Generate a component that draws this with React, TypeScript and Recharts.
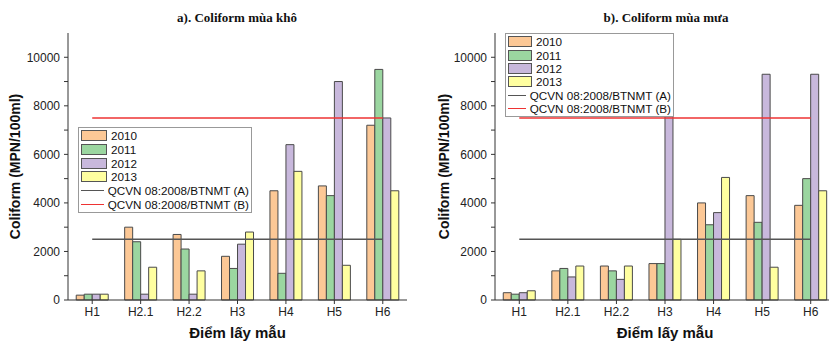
import React from "react";
import { ComposedChart, Bar, Line, XAxis, YAxis, Legend } from "recharts";

const categories = ["H1", "H2.1", "H2.2", "H3", "H4", "H5", "H6"];
const years = ["2010", "2011", "2012", "2013"];
const yearColors = ["#FCC896", "#9BD6A0", "#C8B8DC", "#FFFFA0"];

// mùa khô
const dry2010 = [200, 3000, 2700, 1800, 4500, 4700, 7200];
const dry2011 = [240, 2400, 2100, 1300, 1100, 4300, 9500];
const dry2012 = [240, 240, 240, 2300, 6400, 9000, 7500];
const dry2013 = [240, 1350, 1200, 2800, 5300, 1430, 4500];

// mùa mưa
const wet2010 = [300, 1200, 1400, 1500, 4000, 4300, 3900];
const wet2011 = [240, 1300, 1200, 1500, 3100, 3200, 5000];
const wet2012 = [300, 950, 850, 7600, 3600, 9300, 9300];
const wet2013 = [380, 1400, 1400, 2500, 5050, 1350, 4500];

const qcvnA = [2500, 2500, 2500, 2500, 2500, 2500, 2500];
const qcvnB = [7500, 7500, 7500, 7500, 7500, 7500, 7500];
const limitNames = ["QCVN 08:2008/BTNMT (A)", "QCVN 08:2008/BTNMT (B)"];
const limitColors = ["#555555", "#EE3333"];

const yTicks = [0, 1000, 2000, 3000, 4000, 5000, 6000, 7000, 8000, 9000, 10000];

function buildRows(series: number[][]) {
  return categories.map((c, i) => ({
    name: c,
    y2010: series[0][i],
    y2011: series[1][i],
    y2012: series[2][i],
    y2013: series[3][i],
    A: qcvnA[i],
    B: qcvnB[i],
  }));
}

const dryData = buildRows([dry2010, dry2011, dry2012, dry2013]);
const wetData = buildRows([wet2010, wet2011, wet2012, wet2013]);

function LegendBox({ rowH, swatchW }: { rowH: number; swatchW: number }) {
  const row: React.CSSProperties = {
    display: "flex",
    alignItems: "center",
    height: rowH,
    whiteSpace: "nowrap",
  };
  return (
    <div
      style={{
        background: "#fff",
        border: "1px solid #999",
        padding: "1px 2px",
        fontFamily: "Arial, 'Liberation Sans', sans-serif",
        fontSize: 11.7,
        color: "#111",
        boxSizing: "border-box",
        height: "100%",
      }}
    >
      {years.map((y, i) => (
        <div key={y} style={row}>
          <span
            style={{
              display: "inline-block",
              width: swatchW,
              height: 11,
              background: yearColors[i],
              border: "1px solid #555",
              boxSizing: "border-box",
              marginRight: 4,
            }}
          />
          {y}
        </div>
      ))}
      {limitNames.map((n, i) => (
        <div key={n} style={row}>
          <span
            style={{
              display: "inline-block",
              width: swatchW,
              height: 0,
              borderTop: `1.5px solid ${limitColors[i]}`,
              marginRight: 4,
            }}
          />
          {n}
        </div>
      ))}
    </div>
  );
}

const axisTick = { fontSize: 12, fill: "#222", fontFamily: "Arial, 'Liberation Sans', sans-serif" };
const labelFont = "Arial, 'Liberation Sans', sans-serif";

function Panel({
  data,
  width,
  yAxisWidth,
  marginRight,
  yLabelDx,
  legendPos,
  rowH,
  swatchW,
}: {
  data: any[];
  width: number;
  yAxisWidth: number;
  marginRight: number;
  yLabelDx: number;
  legendPos: { left: number; top: number; width: number; height: number };
  rowH: number;
  swatchW: number;
}) {
  return (
    <ComposedChart
      width={width}
      height={341}
      data={data}
      margin={{ top: 33, right: marginRight, bottom: 0, left: 0 }}
      barCategoryGap="17%"
      barGap={0}
    >
      <XAxis
        dataKey="name"
        height={41}
        tick={axisTick}
        tickSize={4}
        tickMargin={3}
        stroke="#333"
        interval={0}
        label={{
          value: "Điểm lấy mẫu",
          position: "center",
          dy: 12,
          style: { fontSize: 15, fontWeight: 700, fill: "#111", fontFamily: labelFont },
        }}
      />
      <YAxis
        width={yAxisWidth}
        domain={[0, 11000]}
        ticks={yTicks}
        tickFormatter={(v: number) => (v % 2000 === 0 ? String(v) : "")}
        tick={axisTick}
        tickSize={4}
        tickMargin={4}
        stroke="#333"
        label={{
          value: "Coliform (MPN/100ml)",
          angle: -90,
          position: "center",
          dx: yLabelDx,
          style: { fontSize: 14, fontWeight: 700, fill: "#111", fontFamily: labelFont, textAnchor: "middle" },
        }}
      />
      {years.map((y, i) => (
        <Bar
          key={y}
          dataKey={"y" + y}
          name={y}
          fill={yearColors[i]}
          stroke="#4a4a4a"
          strokeWidth={1}
          isAnimationActive={false}
        />
      ))}
      <Line dataKey="A" name={limitNames[0]} stroke={limitColors[0]} strokeWidth={1.5} dot={false} activeDot={false} isAnimationActive={false} />
      <Line dataKey="B" name={limitNames[1]} stroke={limitColors[1]} strokeWidth={1.5} dot={false} activeDot={false} isAnimationActive={false} />
      <Legend
        layout="vertical"
        align="center"
        verticalAlign="middle"
        wrapperStyle={{ position: "absolute", ...legendPos }}
        content={() => <LegendBox rowH={rowH} swatchW={swatchW} />}
      />
    </ComposedChart>
  );
}

export default function App() {
  const title: React.CSSProperties = {
    position: "absolute",
    top: 10,
    fontFamily: "'Times New Roman', 'Liberation Serif', serif",
    fontWeight: 700,
    fontSize: 13,
    color: "#111",
    transform: "translateX(-50%)",
    whiteSpace: "nowrap",
    lineHeight: "15px",
  };
  return (
    <div
      style={{
        position: "fixed",
        left: 0,
        top: 0,
        width: 829,
        height: 341,
        overflow: "hidden",
        background: "#fff",
      }}
    >
      <div style={{ ...title, left: 237 }}>a). Coliform mùa khô</div>
      <div style={{ ...title, left: 666 }}>b). Coliform mùa mưa</div>
      <div style={{ position: "absolute", left: 0, top: 0 }}>
        <Panel
          data={dryData}
          width={415}
          yAxisWidth={68}
          marginRight={8}
          yLabelDx={-19}
          legendPos={{ left: 78, top: 127, width: 174, height: 86 }}
          rowH={13.7}
          swatchW={26}
        />
      </div>
      <div style={{ position: "absolute", left: 414, top: 0 }}>
        <Panel
          data={wetData}
          width={430}
          yAxisWidth={81}
          marginRight={9}
          yLabelDx={-10.5}
          legendPos={{ left: 91, top: 33, width: 169, height: 84 }}
          rowH={13.4}
          swatchW={24}
        />
      </div>
    </div>
  );
}
